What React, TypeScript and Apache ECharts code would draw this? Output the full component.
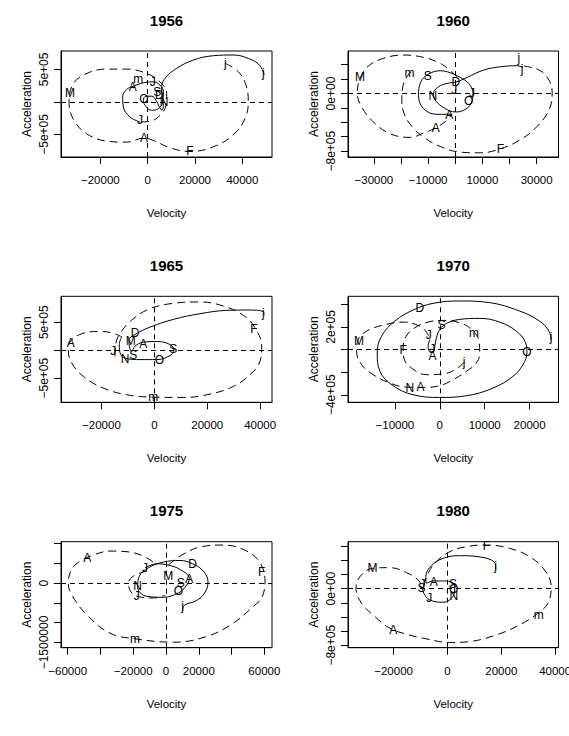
import React, { useEffect, useRef } from 'react';
import * as echarts from 'echarts';

const FONT = "'Liberation Sans',Arial,Helvetica,sans-serif";

const years = ['1956', '1960', '1965', '1970', '1975', '1980'];

// ---------- axis ranges and ticks ----------
const xRange1956 = [-36610, 52520];
const yRange1956 = [-848000, 783600];
const xTicks1956 = [-20000, 0, 20000, 40000];
const xLabels1956 = [-20000, 0, 20000, 40000];
const yTicks1956 = [-500000, 0, 500000];
const yLabels1956 = [-500000, 500000];
const yText1956 = ['\u22125e+05', '5e+05'];

const xRange1960 = [-39550, 38070];
const yRange1960 = [-881400, 590700];
const xTicks1960 = [-30000, -20000, -10000, 0, 10000, 20000, 30000];
const xLabels1960 = [-30000, -10000, 10000, 30000];
const yTicks1960 = [-800000, -600000, -400000, -200000, 0, 200000, 400000];
const yLabels1960 = [-800000, 0];
const yText1960 = ['\u22128e+05', '0e+00'];

const xRange1965 = [-35280, 44480];
const yRange1965 = [-931000, 964000];
const xTicks1965 = [-20000, 0, 20000, 40000];
const xLabels1965 = [-20000, 0, 20000, 40000];
const yTicks1965 = [-500000, 0, 500000];
const yLabels1965 = [-500000, 500000];
const yText1965 = ['\u22125e+05', '5e+05'];

const xRange1970 = [-20440, 26440];
const yRange1970 = [-466700, 471100];
const xTicks1970 = [-10000, 0, 10000, 20000];
const xLabels1970 = [-10000, 0, 10000, 20000];
const yTicks1970 = [-400000, -200000, 0, 200000, 400000];
const yLabels1970 = [-400000, 200000];
const yText1970 = ['\u22124e+05', '2e+05'];

const xRange1975 = [-64070, 64680];
const yRange1975 = [-1631400, 1050900];
const xTicks1975 = [-60000, -40000, -20000, 0, 20000, 40000, 60000];
const xLabels1975 = [-60000, -20000, 0, 20000, 60000];
const yTicks1975 = [-1500000, -1000000, -500000, 0, 500000, 1000000];
const yLabels1975 = [-1500000, 0];
const yText1975 = ['\u22121500000', '0'];

const xRange1980 = [-36930, 41250];
const yRange1980 = [-835300, 663500];
const xTicks1980 = [-20000, 0, 20000, 40000];
const xLabels1980 = [-20000, 0, 20000, 40000];
const yTicks1980 = [-800000, -600000, -400000, -200000, 0, 200000, 400000, 600000];
const yLabels1980 = [-800000, 0];
const yText1980 = ['\u22128e+05', '0e+00'];

// ---------- curves: [velocity, acceleration] ----------
const dashed1956 = [[32800,593000],[38300,464000],[41540,258000],[42500,0],[41100,-258000],[36900,-479000],[29150,-670000],[17900,-763000],[9430,-706000],[2400,-593000],[-1550,-557000],[-8870,-619000],[-17300,-603000],[-25800,-490000],[-31100,-284000],[-33200,-26000],[-32100,232000],[-27200,412000],[-17300,505000],[-8870,505000],[-420,438000],[5200,309000],[8030,129000],[7740,-52000],[5210,-206000],[990,-299000],[-3240,-309000]];
const solid1956 = [[-3240,-309000],[-7460,-232000],[-10280,-77000],[-10560,77000],[-8870,191000],[-6050,242000],[-1830,294000],[2390,309000],[5210,258000],[6620,155000],[6340,0],[4510,-103000],[1690,-129000],[-840,-67000],[-1830,26000],[-700,88000],[1690,88000],[3520,26000],[4930,-77000],[6050,-129000],[6620,-52000],[6050,103000],[5910,232000],[7600,376000],[12250,516000],[19290,644000],[27740,711000],[36190,722000],[42520,670000],[46750,583000],[48860,464000],[49140,412000]];
const months1956: [string, number, number][] = [['j',32800,593000],['j',48860,438000],['F',17880,-758000],['A',-1550,-552000],['M',-32800,144000],['m',-3940,350000],['A',-6340,232000],['J',2110,299000],['J',-3240,-284000],['O',-1550,52000],['S',4080,155000],['D',4930,103000],['N',6900,0]];

const dashed1960a = [[25260,381400],[31420,316300],[34870,162800],[35730,0],[34500,-232600],[30180,-455800],[24020,-641800],[16630,-767400],[9240,-823200],[1850,-813900],[-5540,-734900],[-11700,-604600],[-16020,-455800],[-18850,-279100],[-19710,-93000],[-19340,93000],[-17860,232600],[-15650,325600]];
const dashed1960b = [[620,232600],[-1850,316300],[-5540,418600],[-11700,502300],[-19100,534900],[-26490,488400],[-32030,381400],[-35110,209300],[-36100,0],[-34500,-186000],[-30180,-395300],[-24020,-558100],[-16630,-609300],[-11700,-548800],[-7150,-474400],[-3080,-372100],[-1230,-288400]];
const solid1960 = [[-1230,-288400],[-6780,-288400],[-11700,-209300],[-13550,-23300],[-12690,162800],[-9860,269800],[-5540,316300],[-1850,288400],[1850,223200],[4930,139500],[6530,9300],[5790,-139500],[3080,-232600],[0,-255800],[-3700,-209300],[-7390,-93000],[-8010,0],[-6160,93000],[-3080,139500],[620,162800],[4310,223200],[10470,325600],[16630,372100],[22790,386000],[25010,362800]];
const months1960: [string, number, number][] = [['M',-35110,223200],['m',-16880,279100],['S',-10100,241900],['D',250,162800],['N',-8250,-32600],['A',-2220,-302300],['A',-7150,-474400],['O',4930,-102300],['J',6160,9300],['F',16630,-767400],['j',23410,488400],['j',24640,334900],['J',-370,55800]];

const dashed1965 = [[-14870,-107800],[-14490,131700],[-12350,341300],[-7940,562900],[-1640,742500],[7180,838300],[17260,862300],[26080,790400],[33640,622800],[38050,401200],[40570,71900],[39940,-197600],[36160,-437100],[29860,-646700],[21040,-784400],[10960,-844300],[-380,-838300],[-10460,-796400],[-19280,-676600],[-26840,-467100],[-31250,-227500],[-32510,0],[-31630,161700],[-27470,293400],[-21170,335300],[-16130,311400],[-12350,239500]];
const solid1965 = [[-12350,239500],[-13230,101800],[-12730,-77800],[-9830,-155700],[-5420,-167700],[880,-167700],[5920,-95800],[7430,0],[5920,101800],[880,155700],[-4160,143700],[-7310,71900],[-8570,-18000],[-9450,71900],[-9580,179600],[-7310,281400],[-1640,413200],[7180,550900],[17260,652700],[27340,712600],[34900,718600],[41200,688600],[41450,622800]];
const months1965: [string, number, number][] = [['A',-31630,131700],['D',-7310,299400],['M',-8950,161700],['A',-4160,119800],['N',-11090,-149700],['S',-7940,-77800],['S',7180,29900],['O',1890,-167700],['m',-380,-838300],['F',37670,371300],['j',41200,670700],['J',-15500,-6000]];

const dashed1970 = [[5410,-112600],[3700,-171900],[740,-216300],[-2960,-222200],[-6300,-163000],[-8000,-74100],[-8150,14800],[-7560,112600],[-5560,192600],[-2590,243000],[740,257800],[4440,237000],[7040,177800],[8740,74100],[8890,-29600],[8150,-118500],[5930,-192600],[2960,-266700],[0,-320000],[-3700,-334800],[-7410,-331900],[-11110,-296300],[-14810,-222200],[-17410,-133300],[-18520,-14800],[-18150,88900],[-16300,163000],[-12590,216300],[-8150,243000],[-4810,213300],[-2960,154100],[-2220,88900]];
const solid1970 = [[-2220,88900],[-2590,29600],[-2070,-23700],[-1330,-14800],[-1110,29600],[-740,103700],[0,177800],[1480,231100],[4440,266700],[8890,275600],[13330,243000],[17040,163000],[19110,59300],[19410,-23700],[18520,-133300],[16300,-237000],[11850,-340700],[5930,-408900],[0,-423700],[-5930,-400000],[-10370,-320000],[-13330,-192600],[-13930,-29600],[-12960,118500],[-10000,251900],[-5930,349600],[-1480,408900],[4440,429600],[11110,414800],[17780,340700],[22220,251900],[24300,163000],[24810,83000]];
const months1970: [string, number, number][] = [['D',-4440,370400],['S',370,213300],['m',7630,148200],['M',-18000,80000],['J',-2440,124400],['F',-8150,0],['J',-1700,5900],['A',-1630,-53300],['j',5410,-112600],['O',19410,-23700],['j',24810,112600],['N',-6670,-340700],['A',-4300,-331900]];

const dashed1975a = [[1420,457700],[9560,711900],[20750,915300],[34980,966200],[49220,813600],[57360,517000],[60410,50900],[58380,-372900],[53290,-584800],[41090,-1008500],[24810,-1347500],[4470,-1491600],[-18920,-1406900],[-34170,-1262800],[-48410,-796700],[-57560,-288200],[-59600,8500],[-57560,347500],[-52480,559400],[-44340,711900],[-34170,813600],[-21970,788200],[-11800,644100],[-6710,491600]];
const dashed1975b = [[-11800,305100],[-19930,178000],[-22780,0],[-21360,-220400],[-16880,-339000],[-7730,-372900],[-610,-305100]];
const solid1975 = [[-12810,389900],[-5700,491600],[1420,457700],[8540,347500],[14240,118700],[11590,-101700],[7530,-245800],[-1630,-356000],[-11800,-330500],[-17290,-101700],[-16270,178000],[-10780,389900],[-1630,533900],[8540,576300],[16270,491600],[22780,305100],[25630,33900],[23190,-271200],[17700,-457700],[12610,-525500],[10580,-593300],[10170,-695000]];
const months1975: [string, number, number][] = [['A',-48000,627200],['J',-12810,389900],['D',16270,474600],['F',58380,288200],['M',1420,178000],['A',14240,118700],['S',8950,8500],['O',7530,-203400],['N',-17290,-76300],['J',-17900,-330500],['j',10170,-584800],['m',-18920,-1406900]];

const dashed1980 = [[-8770,42400],[-7160,216500],[-4080,381200],[860,522400],[7040,593000],[14450,616500],[23090,569400],[30500,451800],[36060,263500],[38530,28200],[37300,-207100],[33590,-348200],[26800,-512900],[18150,-654100],[8270,-748300],[860,-762400],[-7780,-710600],[-15190,-644700],[-21370,-560000],[-26920,-395300],[-31860,-207100],[-33960,-4700],[-32480,169400],[-27790,287100],[-21370,296500],[-15190,225900],[-10870,122400],[-9260,14100]];
const solid1980 = [[-9260,14100],[-8770,-65900],[-6550,-160000],[-1610,-192900],[1480,-136500],[2720,-18800],[2100,75300],[-1610,108200],[-5310,108200],[-7780,75300],[-8030,169400],[-5930,324700],[-1610,428200],[4570,465900],[11360,451800],[16300,404700],[17910,334100],[17910,263500]];
const months1980: [string, number, number][] = [['M',-27790,287100],['F',14450,607100],['j',17910,324700],['A',-5060,89400],['S',-9630,14100],['J',-9260,61200],['J',-6790,-127100],['O',2350,-4700],['N',2350,-98800],['S',2100,60000],['A',-20130,-583500],['m',33960,-371800]];

const panels = [
  { xr: xRange1956, yr: yRange1956, xt: xTicks1956, xl: xLabels1956, yt: yTicks1956, yl: yLabels1956, ytx: yText1956, dashed: [dashed1956], solid: [solid1956], months: months1956 },
  { xr: xRange1960, yr: yRange1960, xt: xTicks1960, xl: xLabels1960, yt: yTicks1960, yl: yLabels1960, ytx: yText1960, dashed: [dashed1960a, dashed1960b], solid: [solid1960], months: months1960 },
  { xr: xRange1965, yr: yRange1965, xt: xTicks1965, xl: xLabels1965, yt: yTicks1965, yl: yLabels1965, ytx: yText1965, dashed: [dashed1965], solid: [solid1965], months: months1965 },
  { xr: xRange1970, yr: yRange1970, xt: xTicks1970, xl: xLabels1970, yt: yTicks1970, yl: yLabels1970, ytx: yText1970, dashed: [dashed1970], solid: [solid1970], months: months1970 },
  { xr: xRange1975, yr: yRange1975, xt: xTicks1975, xl: xLabels1975, yt: yTicks1975, yl: yLabels1975, ytx: yText1975, dashed: [dashed1975a, dashed1975b], solid: [solid1975], months: months1975 },
  { xr: xRange1980, yr: yRange1980, xt: xTicks1980, xl: xLabels1980, yt: yTicks1980, yl: yLabels1980, ytx: yText1980, dashed: [dashed1980], solid: [solid1980], months: months1980 },
];

const COL_X = [61, 348];
const COL_W = [211, 210.5];
const ROW_Y = [51, 296.3, 541.7];
const BOX_H = 106;

function fmtX(v: number) {
  return v < 0 ? '\u2212' + Math.abs(v) : String(v);
}

export default function App() {
  const ref = useRef<HTMLDivElement>(null);
  useEffect(() => {
    if (!ref.current) return;
    const chart = echarts.init(ref.current, undefined, { renderer: 'svg' });
    const grid: any[] = [];
    const xAxis: any[] = [];
    const yAxis: any[] = [];
    const series: any[] = [];
    const graphic: any[] = [];
    const txt = { color: '#000', fontSize: 11.5, fontFamily: FONT };
    const ytxt = { color: '#000', fontSize: 12, fontFamily: FONT };
    panels.forEach((p, i) => {
      const c = i % 2;
      const r = Math.floor(i / 2);
      grid.push({
        left: COL_X[c], top: ROW_Y[r], width: COL_W[c], height: BOX_H,
        show: true, borderColor: '#000', borderWidth: 1, backgroundColor: 'transparent',
        containLabel: false, outerBoundsMode: 'none',
      });
      xAxis.push({
        type: 'value', gridIndex: i, min: p.xr[0], max: p.xr[1],
        axisLine: { show: true, onZero: false, lineStyle: { color: '#000', width: 1 } },
        axisTick: { show: true, length: 7, lineStyle: { color: '#000' }, customValues: p.xt },
        axisLabel: { show: true, customValues: p.xl, formatter: (v: number) => fmtX(v), margin: 17, ...txt },
        splitLine: { show: false },
        name: 'Velocity', nameLocation: 'middle', nameGap: 50, nameTextStyle: { ...txt },
      });
      yAxis.push({
        type: 'value', gridIndex: i, min: p.yr[0], max: p.yr[1],
        axisLine: { show: true, onZero: false, lineStyle: { color: '#000', width: 1 } },
        axisTick: { show: true, length: 7, lineStyle: { color: '#000' }, customValues: p.yt },
        axisLabel: {
          show: true, customValues: p.yl, rotate: 90, margin: 11,
          formatter: (v: number) => { const k = p.yl.indexOf(v); return k >= 0 ? p.ytx[k] : ''; },
          ...ytxt,
        },
        splitLine: { show: false },
        name: 'Acceleration', nameLocation: 'middle', nameGap: 28, nameRotate: 90, nameTextStyle: { ...ytxt },
      });
      p.dashed.forEach((seg, k) => {
        series.push({
          type: 'line', xAxisIndex: i, yAxisIndex: i, data: seg, smooth: 0.4, symbol: 'none',
          silent: true, z: 3, lineStyle: { color: '#000', width: 1, type: [8, 5] },
          markLine: k === 0 ? {
            silent: true, symbol: ['none', 'none'], label: { show: false },
            lineStyle: { color: '#000', width: 1, type: [5, 4] },
            emphasis: { disabled: true },
            data: [{ yAxis: 0 }, { xAxis: 0 }],
          } : undefined,
        });
      });
      p.solid.forEach((seg) => {
        series.push({
          type: 'line', xAxisIndex: i, yAxisIndex: i, data: seg, smooth: 0.4, symbol: 'none',
          silent: true, z: 3, lineStyle: { color: '#000', width: 1, type: 'solid' },
        });
      });
      const months = p.months;
      series.push({
        type: 'custom', xAxisIndex: i, yAxisIndex: i, silent: true, z: 5,
        data: months.map((m) => [m[1], m[2]]),
        encode: { x: 0, y: 1 },
        renderItem: (params: any, api: any) => {
          const pt = api.coord([api.value(0), api.value(1)]);
          return {
            type: 'text', x: pt[0], y: pt[1],
            style: {
              text: months[params.dataIndex][0],
              fill: '#000', fontSize: 12, fontFamily: FONT,
              textAlign: 'center', textVerticalAlign: 'middle', align: 'center', verticalAlign: 'middle',
            },
          };
        },
      });
      graphic.push({
        type: 'text', x: COL_X[c] + COL_W[c] / 2, y: ROW_Y[r] - 31,
        style: {
          text: years[i], textAlign: 'center', textVerticalAlign: 'middle', align: 'center', verticalAlign: 'middle',
          fill: '#000', fontSize: 15, fontWeight: 'bold', fontFamily: FONT,
        },
      });
    });
    chart.setOption({ animation: false, backgroundColor: '#fff', grid, xAxis, yAxis, series, graphic });
    return () => chart.dispose();
  }, []);
  return <div ref={ref} style={{ position: 'absolute', left: 0, top: 0, width: 569, height: 736 }} />;
}
